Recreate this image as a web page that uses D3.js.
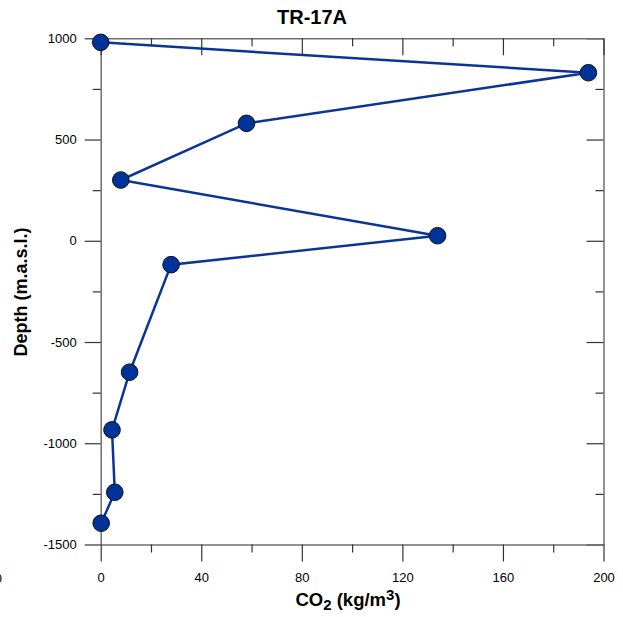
<!DOCTYPE html>
<html>
<head>
<meta charset="utf-8">
<script src="https://cdn.jsdelivr.net/npm/d3@7"></script>
<style>
  body { margin: 0; background: #fff; }
  text { font-family: "Liberation Sans", Arial, sans-serif; }
</style>
</head>
<body>
<div id="chart"></div>
<script>
// CO2 concentration vs depth, well TR-17A
var co2 = [0, 194, 58, 8, 134, 28, 11.5, 4.5, 5.6, 0.2];
var depth = [980, 830, 580, 300, 25, -118, -649, -934, -1242, -1395];
var xTicks = [0, 40, 80, 120, 160, 200];
var xMinor = [20, 60, 100, 140, 180];
var yTicks = [1000, 500, 0, -500, -1000, -1500];
var yMinor = [750, 250, -250, -750, -1250];

(function () {
	var width = 623;
	var height = 617;
	var left = 100.7, right = 603.5, top = 38.3, bottom = 544.5;

	var svg = d3.select("#chart")
	   .append("svg")
	   .attr("width", width)
	   .attr("height", height);

	var x = d3.scaleLinear().domain([0, 200]).range([left, right]);
	var y = d3.scaleLinear().domain([-1500, 1000]).range([bottom, top]);

	var data = co2.map(function (v, i) { return { x: v, y: depth[i] }; });
	// plain hyphen minus, no thousands separator
	var fmt = function (d) { return String(d); };

	function styleAxis(g) {
	  g.select(".domain").attr("stroke", "#6e6e6e").attr("stroke-width", 1.5);
	  g.selectAll(".tick line").attr("stroke", "#333").attr("stroke-width", 1.2);
	  g.selectAll(".tick text")
	    .attr("font-size", 13)
	    .attr("fill", "#000")
	    .attr("font-family", "'Liberation Sans', Arial, sans-serif");
	}

	// left axis, ticks outward
	svg.append("g")
	  .attr("transform", "translate(" + left + ",0)")
	  .call(d3.axisLeft(y).tickValues(yTicks).tickFormat(fmt).tickSize(16).tickSizeOuter(0).tickPadding(8))
	  .call(styleAxis);
	svg.append("g")
	  .attr("transform", "translate(" + left + ",0)")
	  .call(d3.axisLeft(y).tickValues(yMinor).tickSize(8).tickFormat(""))
	  .call(styleAxis)
	  .select(".domain").remove();

	// right axis, ticks inward
	svg.append("g")
	  .attr("transform", "translate(" + right + ",0)")
	  .call(d3.axisRight(y).tickValues(yTicks).tickSize(-17).tickSizeOuter(0).tickFormat(""))
	  .call(styleAxis);
	svg.append("g")
	  .attr("transform", "translate(" + right + ",0)")
	  .call(d3.axisRight(y).tickValues(yMinor).tickSize(-8).tickFormat(""))
	  .call(styleAxis)
	  .select(".domain").remove();

	// bottom axis, ticks outward
	svg.append("g")
	  .attr("transform", "translate(0," + bottom + ")")
	  .call(d3.axisBottom(x).tickValues(xTicks).tickFormat(fmt).tickSize(17).tickSizeOuter(0).tickPadding(11))
	  .call(styleAxis);
	svg.append("g")
	  .attr("transform", "translate(0," + bottom + ")")
	  .call(d3.axisBottom(x).tickValues(xMinor).tickSize(8).tickFormat(""))
	  .call(styleAxis)
	  .select(".domain").remove();

	// top axis, ticks inward
	svg.append("g")
	  .attr("transform", "translate(0," + top + ")")
	  .call(d3.axisTop(x).tickValues(xTicks).tickSize(-17).tickSizeOuter(0).tickFormat(""))
	  .call(styleAxis);
	svg.append("g")
	  .attr("transform", "translate(0," + top + ")")
	  .call(d3.axisTop(x).tickValues(xMinor).tickSize(-8).tickFormat(""))
	  .call(styleAxis)
	  .select(".domain").remove();

	// data line and markers
	var line = d3.line()
	  .x(function (d) { return x(d.x); })
	  .y(function (d) { return y(d.y); });

	svg.append("path")
	  .datum(data)
	  .attr("d", line)
	  .attr("fill", "none")
	  .attr("stroke", "#0a3597")
	  .attr("stroke-width", 2.5);

	svg.selectAll(".pt")
	  .data(data)
	  .enter().append("circle")
	  .attr("class", "pt")
	  .attr("cx", function (d) { return x(d.x); })
	  .attr("cy", function (d) { return y(d.y); })
	  .attr("r", 8.3)
	  .attr("fill", "#003399")
	  .attr("stroke", "#111")
	  .attr("stroke-width", 1);

	// title and axis labels
	svg.append("text")
	  .attr("x", 312)
	  .attr("y", 24)
	  .attr("text-anchor", "middle")
	  .attr("font-size", 20)
	  .attr("font-weight", "bold")
	  .text("TR-17A");

	var xt = svg.append("text")
	  .attr("x", 348)
	  .attr("y", 606)
	  .attr("text-anchor", "middle")
	  .attr("font-size", 18.5)
	  .attr("font-weight", "bold");
	xt.append("tspan").text("CO");
	xt.append("tspan").attr("font-size", 15).attr("dy", 4).text("2");
	xt.append("tspan").attr("dy", -4).text(" (kg/m");
	xt.append("tspan").attr("font-size", 15).attr("dy", -6).text("3");
	xt.append("tspan").attr("dy", 6).text(")");

	svg.append("text")
	  .attr("transform", "translate(27,292) rotate(-90)")
	  .attr("text-anchor", "middle")
	  .attr("font-size", 18)
	  .attr("font-weight", "bold")
	  .text("Depth (m.a.s.l.)");

	// label clipped at the left edge, as in the source
	svg.append("text")
	  .attr("x", 2)
	  .attr("y", 583)
	  .attr("text-anchor", "end")
	  .attr("font-size", 13)
	  .text("0");
})();
</script>
</body>
</html>
